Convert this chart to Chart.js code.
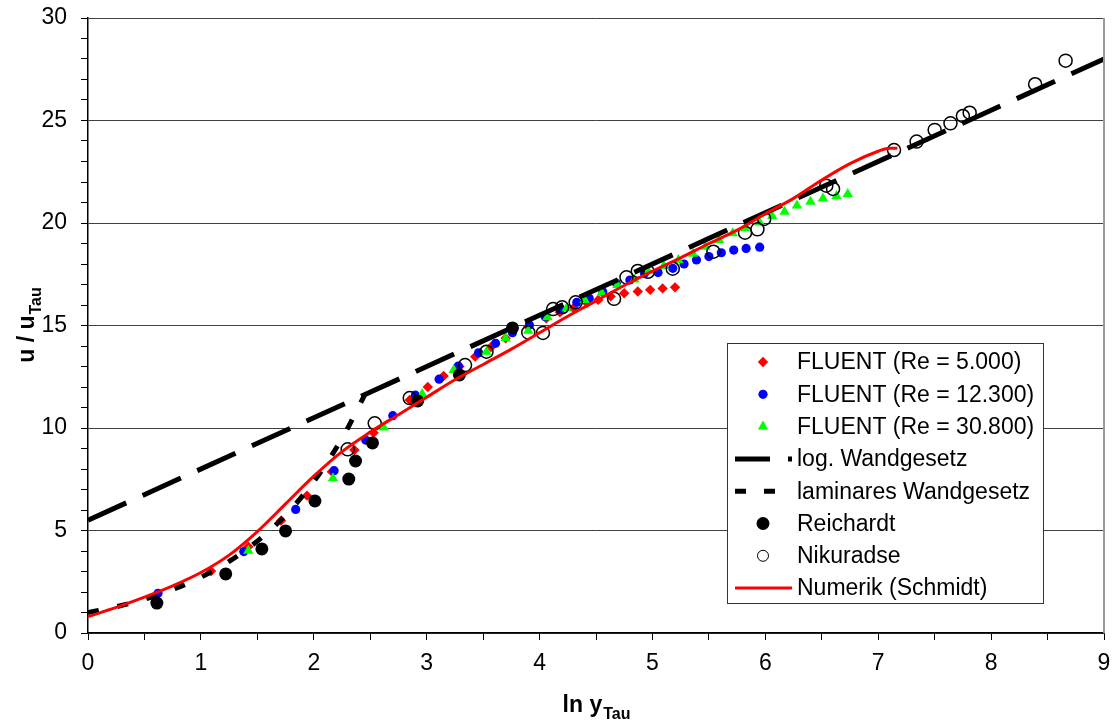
<!DOCTYPE html>
<html>
<head>
<meta charset="utf-8">
<title>u / uTau over ln yTau</title>
<script src="https://cdn.jsdelivr.net/npm/chart.js@4.4.0/dist/chart.umd.min.js"></script>
<style>
  html, body { margin: 0; padding: 0; background: #fff; }
  #wrap { width: 1112px; height: 722px; }
</style>
</head>
<body>
<div id="wrap"><canvas id="chart" width="1112" height="722"></canvas></div>
<script>
const FONT = '"Liberation Sans", Arial, Helvetica, sans-serif';

// x = ln y_Tau, y = u / u_Tau
const re5000X = [1.09, 1.42, 1.71, 1.94, 2.16, 2.36, 2.53, 2.85, 3.01, 3.15, 3.29, 3.43, 3.57, 3.70, 3.90, 4.06, 4.18, 4.30, 4.42, 4.52, 4.63, 4.75, 4.87, 4.98, 5.09, 5.20];
const re5000Y = [3.02, 4.21, 5.48, 6.70, 7.87, 8.93, 9.77, 11.37, 12.0, 12.54, 13.0, 13.48, 13.95, 14.38, 14.94, 15.35, 15.65, 15.85, 16.1, 16.25, 16.42, 16.57, 16.66, 16.74, 16.81, 16.86];

const re12300X = [0.62, 1.38, 1.84, 2.18, 2.46, 2.70, 2.90, 3.11, 3.28, 3.46, 3.61, 3.76, 3.91, 4.05, 4.18, 4.33, 4.44, 4.56, 4.68, 4.80, 4.93, 5.05, 5.18, 5.28, 5.39, 5.50, 5.61, 5.72, 5.83, 5.95];
const re12300Y = [1.94, 3.97, 6.03, 7.92, 9.41, 10.6, 11.6, 12.38, 13.02, 13.67, 14.13, 14.65, 15.02, 15.43, 15.79, 16.13, 16.33, 16.65, 17.06, 17.22, 17.55, 17.58, 17.79, 18.0, 18.2, 18.36, 18.55, 18.68, 18.76, 18.82];

const re30800X = [1.42, 2.17, 2.62, 2.96, 3.24, 3.53, 3.70, 3.90, 4.07, 4.24, 4.40, 4.55, 4.69, 4.84, 4.96, 5.10, 5.23, 5.36, 5.47, 5.59, 5.71, 5.82, 5.95, 6.06, 6.17, 6.28, 6.40, 6.51, 6.63, 6.73];
const re30800Y = [4.01, 7.55, 10.03, 11.66, 12.83, 13.72, 14.38, 14.75, 15.4, 15.84, 16.24, 16.6, 16.98, 17.25, 17.67, 17.9, 18.2, 18.5, 18.84, 19.17, 19.5, 19.74, 20.02, 20.34, 20.55, 20.85, 21.04, 21.2, 21.32, 21.41];

const logLawX = [0, 9];
const logLawY = [5.5, 28];

const laminarX = [0, 0.25, 0.5, 0.75, 1.0, 1.25, 1.5, 1.75, 2.0, 2.25, 2.45];
const laminarY = [1.0, 1.28, 1.65, 2.12, 2.72, 3.49, 4.48, 5.75, 7.39, 9.49, 11.6];

const reichardtX = [0.61, 1.22, 1.54, 1.75, 2.01, 2.31, 2.37, 2.52, 2.92, 3.29, 3.76];
const reichardtY = [1.46, 2.88, 4.10, 4.98, 6.44, 7.51, 8.39, 9.27, 11.32, 12.59, 14.88];

const nikuradseX = [2.30, 2.54, 2.85, 3.34, 3.53, 3.90, 4.03, 4.12, 4.20, 4.32, 4.66, 4.77, 4.87, 4.96, 5.18, 5.54, 5.82, 5.93, 5.99, 6.54, 6.60, 7.14, 7.34, 7.50, 7.64, 7.75, 7.81, 8.39, 8.66];
const nikuradseY = [8.96, 10.23, 11.46, 13.07, 13.72, 14.66, 14.64, 15.8, 15.89, 16.13, 16.3, 17.35, 17.66, 17.62, 17.77, 18.6, 19.53, 19.69, 20.2, 21.82, 21.66, 23.56, 23.97, 24.54, 24.86, 25.22, 25.38, 26.77, 27.92];

const schmidtX = [0, 0.25, 0.5, 0.75, 1.0, 1.25, 1.5, 1.75, 2.0, 2.25, 2.5, 2.75, 3.0, 3.25, 3.5, 3.75, 4.0, 4.25, 4.5, 4.75, 5.0, 5.25, 5.5, 5.75, 6.0, 6.25, 6.5, 6.75, 7.0, 7.1, 7.17];
const schmidtY = [0.8, 1.25, 1.75, 2.3, 2.95, 3.8, 4.95, 6.3, 7.65, 8.85, 9.8, 10.65, 11.5, 12.35, 13.1, 13.85, 14.65, 15.45, 16.2, 16.95, 17.65, 18.3, 19.0, 19.65, 20.45, 21.2, 22.1, 22.9, 23.5, 23.65, 23.65];

const pts = (xs, ys) => xs.map((x, i) => ({ x: x, y: ys[i] }));

const legendOrder = [
  'FLUENT (Re = 5.000)', 'FLUENT (Re = 12.300)', 'FLUENT (Re = 30.800)',
  'log. Wandgesetz', 'laminares Wandgesetz', 'Reichardt', 'Nikuradse', 'Numerik (Schmidt)'
];

// legend box inside the plot, drawn on the canvas
const boxLegend = {
  id: 'boxLegend',
  afterDraw(chart) {
    const ctx = chart.ctx;
    const left = 727, top = 343, w = 316, h = 260;
    ctx.save();
    ctx.fillStyle = '#fff';
    ctx.fillRect(left, top, w, h);
    ctx.strokeStyle = '#333';
    ctx.lineWidth = 1;
    ctx.strokeRect(left + 0.5, top + 0.5, w, h);
    ctx.font = '23px ' + FONT;
    ctx.textBaseline = 'middle';
    ctx.textAlign = 'left';
    legendOrder.forEach((label, i) => {
      const ds = chart.data.datasets.find(d => d.label === label);
      const y = 362 + i * 32.3;
      if (ds.showLine) {
        ctx.save();
        ctx.strokeStyle = ds.borderColor;
        ctx.lineWidth = ds.borderWidth;
        ctx.setLineDash(ds.legendDash || []);
        ctx.beginPath();
        ctx.moveTo(735, y);
        ctx.lineTo(792, y);
        ctx.stroke();
        ctx.restore();
      } else {
        ctx.save();
        ctx.fillStyle = ds.backgroundColor;
        ctx.strokeStyle = ds.borderColor;
        Chart.helpers.drawPoint(ctx, {
          pointStyle: ds.pointStyle,
          radius: ds.legendRadius || ds.pointRadius,
          borderWidth: ds.borderWidth,
          rotation: 0
        }, 763, y);
        ctx.restore();
      }
      ctx.fillStyle = '#000';
      ctx.fillText(label, 797, y + 1);
    });
    ctx.restore();
  }
};

// axis titles with subscripts, plus the grey frame line on the right
const axisTitles = {
  id: 'axisTitles',
  afterDraw(chart) {
    const ctx = chart.ctx;
    const a = chart.chartArea;
    ctx.save();
    ctx.strokeStyle = '#999';
    ctx.lineWidth = 2;
    ctx.beginPath();
    ctx.moveTo(a.right, a.top);
    ctx.lineTo(a.right, a.bottom);
    ctx.stroke();

    const big = 'bold 23px ' + FONT, small = 'bold 16px ' + FONT;
    const drawSub = (main, sub, cx, base) => {
      ctx.font = big;
      const w1 = ctx.measureText(main).width;
      ctx.font = small;
      const w2 = ctx.measureText(sub).width;
      let x = cx - (w1 + w2) / 2;
      ctx.fillStyle = '#000';
      ctx.textBaseline = 'alphabetic';
      ctx.textAlign = 'left';
      ctx.font = big;
      ctx.fillText(main, x, base);
      ctx.font = small;
      ctx.fillText(sub, x + w1 + 1, base + 7);
    };
    drawSub('ln y', 'Tau', (a.left + a.right) / 2, 712);
    ctx.translate(34, (a.top + a.bottom) / 2);
    ctx.rotate(-Math.PI / 2);
    drawSub('u / u', 'Tau', 0, 0);
    ctx.restore();
  }
};

new Chart(document.getElementById('chart'), {
  type: 'scatter',
  data: {
    datasets: [
      {
        label: 'Numerik (Schmidt)',
        data: pts(schmidtX, schmidtY),
        showLine: true,
        borderColor: '#ff0000',
        backgroundColor: '#ff0000',
        borderWidth: 3,
        pointRadius: 0,
        cubicInterpolationMode: 'monotone',
        order: 0
      },
      {
        label: 'Nikuradse',
        data: pts(nikuradseX, nikuradseY),
        pointStyle: 'circle',
        pointRadius: 6.5,
        legendRadius: 5.5,
        borderWidth: 1.5,
        borderColor: '#000',
        backgroundColor: 'rgba(0,0,0,0)',
        order: 1
      },
      {
        label: 'Reichardt',
        data: pts(reichardtX, reichardtY),
        pointStyle: 'circle',
        pointRadius: 6.5,
        borderWidth: 0,
        borderColor: '#000',
        backgroundColor: '#000',
        order: 2
      },
      {
        label: 'laminares Wandgesetz',
        data: pts(laminarX, laminarY),
        showLine: true,
        borderColor: '#000',
        backgroundColor: '#000',
        borderWidth: 5,
        borderDash: [11, 19],
        legendDash: [11, 18],
        pointRadius: 0,
        cubicInterpolationMode: 'monotone',
        order: 3
      },
      {
        label: 'log. Wandgesetz',
        data: pts(logLawX, logLawY),
        showLine: true,
        borderColor: '#000',
        backgroundColor: '#000',
        borderWidth: 5,
        borderDash: [42, 18],
        legendDash: [35, 18],
        pointRadius: 0,
        order: 4
      },
      {
        label: 'FLUENT (Re = 30.800)',
        data: pts(re30800X, re30800Y),
        pointStyle: 'triangle',
        pointRadius: 6,
        borderWidth: 0,
        borderColor: '#00ff00',
        backgroundColor: '#00ff00',
        order: 5
      },
      {
        label: 'FLUENT (Re = 12.300)',
        data: pts(re12300X, re12300Y),
        pointStyle: 'circle',
        pointRadius: 4.6,
        borderWidth: 0,
        borderColor: '#0000ff',
        backgroundColor: '#0000ff',
        order: 6
      },
      {
        label: 'FLUENT (Re = 5.000)',
        data: pts(re5000X, re5000Y),
        pointStyle: 'rectRot',
        pointRadius: 5.2,
        borderWidth: 0,
        borderColor: '#ff0000',
        backgroundColor: '#ff0000',
        order: 7
      }
    ]
  },
  options: {
    responsive: false,
    devicePixelRatio: 1,
    animation: false,
    layout: { padding: { top: 18, right: 8, left: 0, bottom: 0 } },
    plugins: {
      legend: { display: false },
      tooltip: { enabled: false }
    },
    scales: {
      x: {
        type: 'linear',
        min: 0,
        max: 9,
        afterFit: s => { s.height = 89; s.paddingLeft = 0; s.paddingRight = 0; },
        border: { color: '#000', width: 1.5 },
        grid: { drawOnChartArea: false, drawTicks: true, tickLength: 7, tickColor: '#000' },
        ticks: {
          stepSize: 0.5,
          autoSkip: false,
          maxRotation: 0,
          padding: 10,
          color: '#000',
          font: { family: FONT, size: 23 },
          callback: v => Number.isInteger(v) ? v : ''
        }
      },
      y: {
        type: 'linear',
        min: 0,
        max: 30,
        afterFit: s => { s.width = 88; s.paddingTop = 0; s.paddingBottom = 0; },
        border: { color: '#000', width: 1.5 },
        grid: {
          color: c => (c.tick && c.tick.value % 5 === 0) ? '#404040' : 'rgba(0,0,0,0)',
          tickColor: '#000',
          tickLength: 7,
          lineWidth: 1
        },
        ticks: {
          stepSize: 1,
          autoSkip: false,
          padding: 14,
          color: '#000',
          font: { family: FONT, size: 23 },
          callback: v => v % 5 === 0 ? v : ''
        }
      }
    }
  },
  plugins: [boxLegend, axisTitles]
});
</script>
</body>
</html>
